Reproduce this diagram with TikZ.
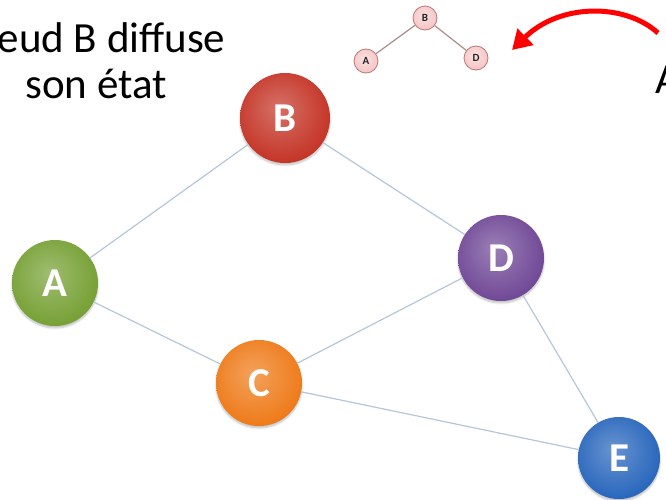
\documentclass[tikz,border=0pt]{standalone}
\usepackage{fontspec}
\setmainfont{Carlito}
\usetikzlibrary{shadows.blur,arrows.meta}

% soft sphere shading: light centre, main colour, darker rim
\pgfdeclareradialshading[ballinner,ballmid,ballrim]{nodeball}{\pgfpoint{-4bp}{6bp}}{%
  color(0bp)=(ballinner); color(28bp)=(ballmid); color(44bp)=(ballmid); color(50bp)=(ballrim)}

\definecolor{colA}{RGB}{118,160,52}
\definecolor{colB}{RGB}{196,52,38}
\definecolor{colC}{RGB}{238,122,24}
\definecolor{colD}{RGB}{112,72,150}
\definecolor{colE}{RGB}{40,102,188}
\definecolor{edgecol}{RGB}{182,198,218}
\definecolor{pinkfill}{RGB}{246,196,196}
\definecolor{pinkrim}{RGB}{188,118,118}
\definecolor{smalledge}{RGB}{170,140,140}

\begin{document}
\begin{tikzpicture}[x=1pt,y=-1pt,
  sphere/.style={circle, minimum size=86pt, inner sep=0pt,
    /utils/exec={\colorlet{ballinner}{#1!70!white}\colorlet{ballmid}{#1}\colorlet{ballrim}{#1!80!black}},
    shading=nodeball, text=white,
    font=\fontsize{41}{41}\selectfont\bfseries,
    blur shadow={shadow xshift=0pt, shadow yshift=-2pt, shadow blur steps=6, shadow opacity=25}},
  smallnode/.style={circle, minimum size=24pt, inner sep=0pt,
    /utils/exec={\colorlet{ballinner}{pinkfill!50!white}\colorlet{ballmid}{pinkfill}\colorlet{ballrim}{pinkfill!85!black}},
    shading=nodeball, draw=pinkrim, line width=0.8pt, text=black!85,
    font=\fontsize{11}{11}\selectfont\bfseries},
  link/.style={draw=edgecol, line width=1.2pt},
  smalllink/.style={draw=smalledge, line width=1.2pt},
  caption/.style={font=\fontsize{43}{43}\selectfont, text=black}]
\useasboundingbox (0,0) rectangle (666,499);
\clip (0,0) rectangle (666,499);

% main graph
\node[sphere=colB, minimum size=90pt] (B) at (285,118) {B};
\node[sphere=colA] (A) at (55,283) {A};
\node[sphere=colD] (D) at (501,258) {D};
\node[sphere=colC] (C) at (259,383) {C};
\node[sphere=colE, minimum size=82pt] (E) at (619,458) {E};

\draw[link] (B) -- (A);
\draw[link] (B) -- (D);
\draw[link] (A) -- (C);
\draw[link] (C) -- (D);
\draw[link] (C) -- (E);
\draw[link] (D) -- (E);

% small tree
\node[smallnode] (sB) at (425,18) {B};
\node[smallnode] (sA) at (366,61) {A};
\node[smallnode] (sD) at (476,58) {D};
\draw[smalllink] (sB) -- (sA);
\draw[smalllink] (sB) -- (sD);

% red arrow
\coordinate (arrowstart) at (658,33);
\coordinate (arrowend) at (512,50);
\draw[red, line width=5pt, -{Triangle[length=19pt,width=22pt]}]
  (arrowstart) .. controls (625,3) and (560,3) .. (arrowend);

% captions
\node[caption, anchor=base east] (cap1) at (229,52) {Noeud B diffuse};
\node[caption, anchor=base] (cap2) at (96,98) {son état};
\node[caption, anchor=base west] (cap3) at (652,93) {A};
\end{tikzpicture}
\end{document}
